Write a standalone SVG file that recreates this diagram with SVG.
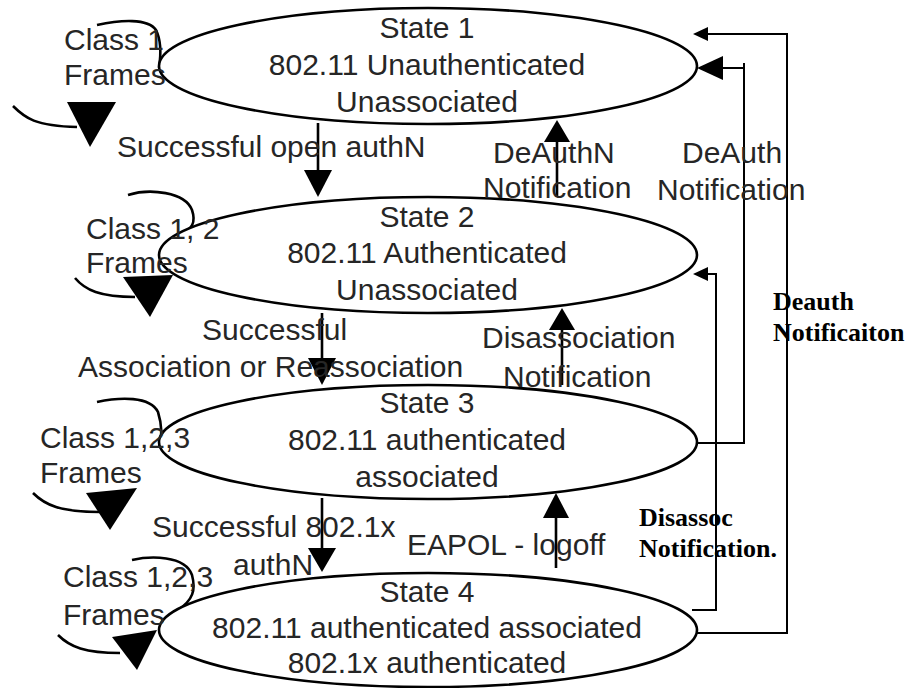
<svg xmlns="http://www.w3.org/2000/svg" width="916" height="688" viewBox="0 0 916 688">
<style>
.st{fill:#fff;stroke:#000;stroke-width:2.6}
.t{font-family:"Liberation Sans",Arial,sans-serif;font-size:30px;fill:#262626}
.c{text-anchor:middle}
.b{font-family:"Liberation Serif","Times New Roman",serif;font-size:26px;font-weight:bold;fill:#000}
.ln{fill:none;stroke:#000;stroke-width:2.6}
.thin{fill:none;stroke:#000;stroke-width:2}
.ah{fill:#000;stroke:none}
</style>
<rect width="916" height="688" fill="#fff"/>
<g id="loops">
<path class="ln" d="M97 25 C120 20 148 18 156 30 C161 40 161 55 159 68"/>
<path class="ln" d="M13 106 C25 118 35 126 77 127"/>
<polygon class="ah" points="67,102 116,102 90,147"/>
<path class="ln" d="M128 195 C150 188 185 192 192 210 C196 222 193 230 178 235"/>
<path class="ln" d="M75 278 C85 290 100 297 135 297"/>
<polygon class="ah" points="123,277 173,275 150,317"/>
<path class="ln" d="M97 402 C120 397 150 396 158 412 C162 425 162 438 159 447"/>
<path class="ln" d="M33 493 C45 505 60 512 100 512"/>
<polygon class="ah" points="86,493 137,488 110,530"/>
<path class="ln" d="M132 560 C150 556 185 555 192 575 C196 590 193 600 178 610"/>
<path class="ln" d="M58 635 C70 647 85 653 120 653"/>
<polygon class="ah" points="112,637 157,630 137,670"/>
</g>
<g id="state1">
<ellipse class="st" cx="428" cy="66" rx="269" ry="58"/>
<text class="t c" x="427" y="38">State 1</text>
<text class="t c" x="427" y="75">802.11 Unauthenticated</text>
<text class="t c" x="427" y="112">Unassociated</text>
</g>
<g id="state2">
<ellipse class="st" cx="428" cy="255" rx="269" ry="58"/>
<text class="t c" x="427" y="227">State 2</text>
<text class="t c" x="427" y="263">802.11 Authenticated</text>
<text class="t c" x="427" y="300">Unassociated</text>
</g>
<g id="state3">
<ellipse class="st" cx="428" cy="442" rx="269" ry="57"/>
<text class="t c" x="427" y="413">State 3</text>
<text class="t c" x="427" y="450">802.11 authenticated</text>
<text class="t c" x="427" y="487">associated</text>
</g>
<g id="state4">
<ellipse class="st" cx="428" cy="630" rx="269" ry="57"/>
<text class="t c" x="427" y="602">State 4</text>
<text class="t c" x="427" y="638">802.11 authenticated associated</text>
<text class="t c" x="427" y="673">802.1x authenticated</text>
</g>
<g id="connectors">
<line class="ln" x1="318" y1="123" x2="318" y2="172"/>
<polygon class="ah" points="304,170 332,170 318,197"/>
<line class="ln" x1="322" y1="313" x2="322" y2="360"/>
<polygon class="ah" points="308,358 336,358 322,385"/>
<line class="ln" x1="322" y1="498" x2="322" y2="550"/>
<polygon class="ah" points="308,548 336,548 322,572"/>
<line class="ln" x1="557" y1="197" x2="557" y2="140"/>
<polygon class="ah" points="544,142 570,142 557,120"/>
<line class="ln" x1="562" y1="385" x2="562" y2="328"/>
<polygon class="ah" points="549,330 575,330 562,308"/>
<line class="ln" x1="556" y1="568" x2="556" y2="516"/>
<polygon class="ah" points="543,518 569,518 556,493"/>
<polyline class="thin" points="697,633 787,633 787,34 705,34"/>
<polygon class="ah" points="708,27 708,41 693,34"/>
<polyline class="thin" points="697,443 744,443 744,63"/>
<line class="thin" x1="744" y1="68" x2="720" y2="68"/>
<polygon class="ah" points="723,56 723,80 697,68"/>
<polyline class="thin" points="692,610 716,610 716,274 705,274"/>
<polygon class="ah" points="708,267 708,281 693,274"/>
</g>
<g id="labels">
<text class="t" x="64" y="50">Class 1</text>
<text class="t" x="64" y="85">Frames</text>
<text class="t" x="86" y="239">Class 1, 2</text>
<text class="t" x="86" y="273">Frames</text>
<text class="t" x="40" y="448">Class 1,2,3</text>
<text class="t" x="40" y="483">Frames</text>
<text class="t" x="63" y="587">Class 1,2,3</text>
<text class="t" x="63" y="625">Frames</text>
<text class="t" x="117" y="157">Successful open authN</text>
<text class="t" x="493" y="163">DeAuthN</text>
<text class="t" x="483" y="198">Notification</text>
<text class="t" x="682" y="163">DeAuth</text>
<text class="t" x="657" y="200">Notification</text>
<text class="t" x="202" y="340">Successful</text>
<text class="t" x="78" y="377">Association or Reassociation</text>
<text class="t" x="482" y="348">Disassociation</text>
<text class="t" x="503" y="387">Notification</text>
<text class="t" x="152" y="537">Successful 802.1x</text>
<text class="t" x="233" y="575">authN</text>
<text class="t" x="407" y="555">EAPOL - logoff</text>
<text class="b" x="773" y="310">Deauth</text>
<text class="b" x="773" y="341">Notificaiton</text>
<text class="b" x="639" y="526">Disassoc</text>
<text class="b" x="639" y="557">Notification.</text>
</g>
</svg>
